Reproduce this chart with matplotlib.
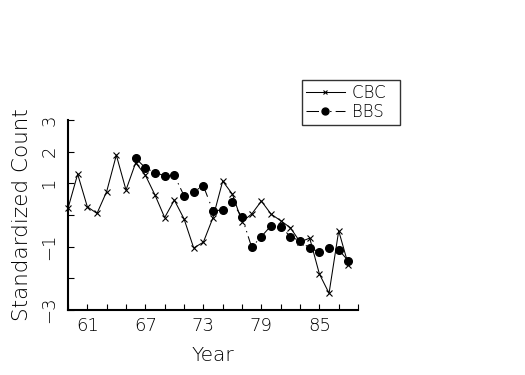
import numpy as np
import matplotlib
matplotlib.use("Agg")
import matplotlib.pyplot as plt
from matplotlib.lines import Line2D
from matplotlib.legend_handler import HandlerLine2D

plt.rcParams['font.family'] = ['DejaVu Sans']
plt.rcParams['font.weight'] = 'light'
plt.rcParams['axes.labelweight'] = 'light'
plt.rcParams['lines.scale_dashes'] = False

# data
cbc_years = list(range(59, 89))
cbc = [0.21, 1.29, 0.26, 0.05, 0.74, 1.89, 0.79, 1.65, 1.26, 0.63,
       -0.08, 0.47, -0.12, -1.04, -0.86, -0.08, 1.07, 0.66, -0.21, 0.03,
       0.44, 0.03, -0.18, -0.40, -0.85, -0.73, -1.86, -2.47, -0.50, -1.58]

bbs_years = list(range(66, 89))
bbs = [1.79, 1.49, 1.34, 1.24, 1.25, 0.61, 0.74, 0.92, 0.13, 0.16,
       0.40, -0.07, -1.02, -0.68, -0.34, -0.37, -0.68, -0.82, -1.05, -1.16,
       -1.03, -1.10, -1.45]

xticks = list(range(59, 90, 2))
xlabels = ['61', '67', '73', '79', '85']
yticks = [-3, -2, -1, 0, 1, 2, 3]
ylabels = {3: '3', 2: '2', 1: '1', -1: '\u22121', -3: '\u22123'}

bbs_dash = (0, (9, 4, 1, 3, 1, 3))


class LeftMarker(HandlerLine2D):
    # put the legend marker at the start of the sample line
    def get_xdata(self, legend, xdescent, ydescent, width, height, fontsize):
        xdata = np.array([-xdescent, -xdescent + width])
        return xdata, np.array([-xdescent])


fig = plt.figure(figsize=(5.25, 3.75), dpi=100)
ax = fig.add_axes([0.1295, 0.1733, 0.5525, 0.5067])

ax.plot(cbc_years, cbc, color='black', lw=0.75, marker='x', ms=4, mew=0.8,
        clip_on=False)
ax.plot(bbs_years, bbs, color='black', lw=0.75, linestyle=bbs_dash,
        marker='o', ms=5.5, clip_on=False)

ax.set_xlim(59, 89)
ax.set_ylim(-3, 3)
ax.set_xticks(xticks)
ax.set_xticklabels([str(t) if str(t) in xlabels else '' for t in xticks])
ax.set_yticks(yticks)
ax.set_yticklabels([ylabels.get(t, '') for t in yticks], rotation=90,
                   va='center')

for s in ['top', 'right']:
    ax.spines[s].set_visible(False)
for s in ['left', 'bottom']:
    ax.spines[s].set_linewidth(1.5)
ax.tick_params(direction='in', length=4, width=0.8, labelsize=13)
ax.tick_params(axis='x', pad=5)
ax.tick_params(axis='y', pad=7)

ax.set_xlabel('Year', fontsize=14.5, labelpad=8)
ax.set_ylabel('Standardized Count', fontsize=15.5, labelpad=6)

h1 = Line2D([], [], color='black', lw=0.75, marker='x', ms=3, mew=0.8)
h2 = Line2D([], [], color='black', lw=0.75, linestyle=bbs_dash, marker='o',
            ms=5)
leg = fig.legend([h1, h2], ['CBC  ', 'BBS  '], loc='upper left',
                 bbox_to_anchor=(302 / 525, 1 - 80 / 375), fontsize=12,
                 handlelength=2.3, handletextpad=0.45, borderpad=0.25,
                 labelspacing=0.05, borderaxespad=0, fancybox=False,
                 handler_map={Line2D: LeftMarker()})
leg.get_frame().set_edgecolor('black')
leg.get_frame().set_linewidth(1.0)

fig.savefig('out.png', dpi=100)
